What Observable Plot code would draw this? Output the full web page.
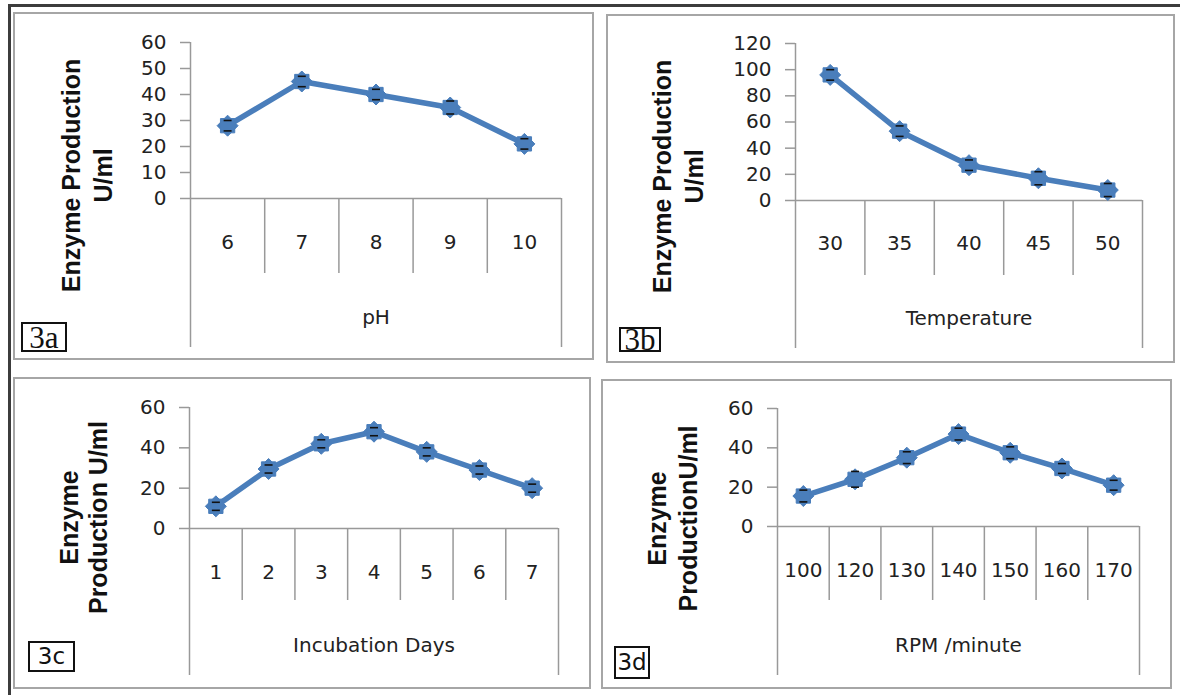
<!DOCTYPE html>
<html>
<head>
<meta charset="utf-8">
<script src="https://cdn.jsdelivr.net/npm/d3@7"></script>
<script src="https://cdn.jsdelivr.net/npm/@observablehq/plot@0.6"></script>
<style>
  html, body { margin: 0; padding: 0; background: #fff; }
  #root { position: relative; width: 1180px; height: 695px; overflow: hidden; background: #fff; }
  .frameTop { position: absolute; left: 8px; top: 4px; width: 1172px; height: 3px; background: #3c3c3c; }
  .frameLeft { position: absolute; left: 8px; top: 4px; width: 3px; height: 691px; background: #3c3c3c; }
  .panel { position: absolute; box-sizing: border-box; border: 2px solid #a6a6a6; }
  .chart { position: absolute; }
  .chart svg { overflow: visible; }
  .tag { position: absolute; box-sizing: border-box; border: 2px solid #111; color: #111;
         display: flex; align-items: center; justify-content: center; background: #fff; line-height: 1; }
</style>
</head>
<body>
<div id="root">
  <div class="frameTop"></div>
  <div class="frameLeft"></div>
</div>
<script>
// ---------------- data ----------------
const phCats = ["6", "7", "8", "9", "10"];
const phValues = [28, 45, 40, 35, 21];
const phErrors = [2, 2, 2, 2.5, 2];
const phTicks = [0, 10, 20, 30, 40, 50, 60];

const tempCats = ["30", "35", "40", "45", "50"];
const tempValues = [96, 53, 27, 17, 8];
const tempErrors = [4, 4, 4, 5, 5];
const tempTicks = [0, 20, 40, 60, 80, 100, 120];

const dayCats = ["1", "2", "3", "4", "5", "6", "7"];
const dayValues = [11, 29.5, 42, 48, 38, 29, 20];
const dayErrors = [2, 2, 2, 2, 2, 2, 2];
const dayTicks = [0, 20, 40, 60];

const rpmCats = ["100", "120", "130", "140", "150", "160", "170"];
const rpmValues = [15.5, 24, 35, 47, 37.5, 29.5, 21];
const rpmErrors = [3, 4, 3, 3, 3, 2.5, 2.5];
const rpmTicks = [0, 20, 40, 60];

// ---------------- layout ----------------
const LINE = "#4a7ebb";
const AXIS = "#999999";
const TEXT = "#222222";

const panels = [
  {tag: "3a", tagSerif: true, cats: phCats, values: phValues, errors: phErrors, ticks: phTicks,
   xTitle: "pH", yTitle: "Enzyme Production\nU/ml",
   box: [14, 13, 593, 359], axisX: 190, rightEnd: 561, yTop: 42, y0: 198,
   divEnd: 273, outerEnd: 347, labelY: 242, titleY: 317, yTitleX: 85, yTitleY: 175, yTitleLH: 32,
   tagBox: [21, 322, 67, 352]},
  {tag: "3b", tagSerif: true, cats: tempCats, values: tempValues, errors: tempErrors, ticks: tempTicks,
   xTitle: "Temperature", yTitle: "Enzyme Production\nU/ml",
   box: [607, 15, 1174, 362], axisX: 795, rightEnd: 1142, yTop: 43, y0: 200,
   divEnd: 275, outerEnd: 348, labelY: 243, titleY: 318, yTitleX: 676, yTitleY: 176, yTitleLH: 32,
   tagBox: [619, 327, 661, 352]},
  {tag: "3c", tagSerif: false, cats: dayCats, values: dayValues, errors: dayErrors, ticks: dayTicks,
   xTitle: "Incubation Days", yTitle: "Enzyme\nProduction U/ml",
   box: [14, 378, 590, 688], axisX: 189, rightEnd: 558, yTop: 407, y0: 528,
   divEnd: 600, outerEnd: 675, labelY: 572, titleY: 645, yTitleX: 82.5, yTitleY: 517, yTitleLH: 29,
   tagBox: [28, 641, 75, 672]},
  {tag: "3d", tagSerif: false, cats: rpmCats, values: rpmValues, errors: rpmErrors, ticks: rpmTicks,
   xTitle: "RPM /minute", yTitle: "Enzyme\nProductionU/ml",
   box: [602, 380, 1171, 688], axisX: 777, rightEnd: 1139, yTop: 408, y0: 526,
   divEnd: 600, outerEnd: 675, labelY: 570, titleY: 645, yTitleX: 671.5, yTitleY: 518, yTitleLH: 31,
   tagBox: [614, 646, 650, 679]}
];

// marker: union of a diamond and a square (Excel-like blurred diamond)
const starSymbol = {
  draw(ctx, size) {
    const r = Math.sqrt(size / Math.PI);
    ctx.moveTo(0, -r); ctx.lineTo(r, 0); ctx.lineTo(0, r); ctx.lineTo(-r, 0); ctx.closePath();
    const s = r * 0.68;
    ctx.moveTo(-s, -s); ctx.lineTo(s, -s); ctx.lineTo(s, s); ctx.lineTo(-s, s); ctx.closePath();
  }
};
// error-bar cap: short horizontal stroke
const capSymbol = {
  draw(ctx, size) {
    const r = Math.sqrt(size / Math.PI);
    ctx.moveTo(-r, 0); ctx.lineTo(r, 0);
  }
};

const root = document.getElementById("root");

for (const p of panels) {
  const [bx0, by0, bx1, by1] = p.box;
  const border = document.createElement("div");
  border.className = "panel";
  Object.assign(border.style, {left: (bx0 - 1) + "px", top: (by0 - 1) + "px",
    width: (bx1 - bx0 + 2) + "px", height: (by1 - by0 + 2) + "px"});
  root.appendChild(border);

  const n = p.cats.length;
  const data = p.cats.map((c, i) => ({i: i + 1, cat: c, v: p.values[i], e: p.errors[i]}));
  const bounds = d3.range(1, n).map(i => i + 0.5);
  const ends = [0.5, n + 0.5];
  const yMax = d3.max(p.ticks);
  const font = "DejaVu Sans, Verdana, sans-serif";

  const chart = Plot.plot({
    width: bx1 - bx0,
    height: by1 - by0,
    marginLeft: p.axisX - bx0,
    marginRight: bx1 - p.rightEnd,
    marginTop: p.yTop - by0,
    marginBottom: by1 - p.y0,
    style: {background: "transparent", fontFamily: font, color: TEXT, overflow: "visible"},
    x: {domain: [0.5, n + 0.5], axis: null},
    y: {domain: [0, yMax], axis: null},
    marks: [
      Plot.axisY(p.ticks, {tickSize: 10, tickPadding: 14, stroke: AXIS, strokeWidth: 1.5,
        fontSize: 20, fill: TEXT, label: null, tickFormat: d => String(d),
        style: {letterSpacing: "1px"}}),
      Plot.ruleX([0.5], {x: d => d, y1: 0, y2: yMax, stroke: AXIS, strokeWidth: 1.5}),
      Plot.ruleY([0], {stroke: AXIS, strokeWidth: 1.5}),
      Plot.axisX(bounds, {tickSize: p.divEnd - p.y0, tickFormat: () => "", label: null,
        stroke: AXIS, strokeWidth: 1.5}),
      Plot.axisX(ends, {tickSize: p.outerEnd - p.y0, tickFormat: () => "", label: null,
        stroke: AXIS, strokeWidth: 1.5}),
      Plot.text(data, {x: "i", text: "cat", frameAnchor: "bottom", dy: p.labelY - p.y0,
        fontSize: 20, fill: TEXT, lineAnchor: "middle", style: {letterSpacing: "1px"}}),
      Plot.text([p.xTitle], {frameAnchor: "bottom", dy: p.titleY - p.y0, fontSize: 20,
        fill: TEXT, lineAnchor: "middle", style: {letterSpacing: "1.3px"}}),
      Plot.text([p.yTitle], {frameAnchor: "top-left", dx: p.yTitleX - p.axisX, dy: p.yTitleY - p.yTop,
        rotate: -90, fontSize: 25, fontWeight: "bold", fontFamily: "Liberation Sans, Arial, sans-serif",
        lineHeight: p.yTitleLH / 25, lineAnchor: "middle", textAnchor: "middle", fill: "#111",
        style: {letterSpacing: "0.8px"}}),
      Plot.ruleX(data, {x: "i", y1: d => d.v - d.e, y2: d => d.v + d.e, stroke: "#111", strokeWidth: 1.2}),
      Plot.line(data, {x: "i", y: "v", stroke: LINE, strokeWidth: 5.5, strokeLinejoin: "round"}),
      Plot.dot(data, {x: "i", y: "v", symbol: starSymbol, r: 10.5, fill: LINE, stroke: LINE, strokeWidth: 1}),
      Plot.dot(data, {x: "i", y: d => d.v + d.e, symbol: capSymbol, r: 4, stroke: "#111", strokeWidth: 1.6}),
      Plot.dot(data, {x: "i", y: d => d.v - d.e, symbol: capSymbol, r: 4, stroke: "#111", strokeWidth: 1.6})
    ]
  });
  const wrap = document.createElement("div");
  wrap.className = "chart";
  Object.assign(wrap.style, {left: bx0 + "px", top: by0 + "px"});
  wrap.appendChild(chart);
  root.appendChild(wrap);

  const [tx0, ty0, tx1, ty1] = p.tagBox;
  const tag = document.createElement("div");
  tag.className = "tag";
  tag.textContent = p.tag;
  Object.assign(tag.style, {left: tx0 + "px", top: ty0 + "px", width: (tx1 - tx0) + "px", height: (ty1 - ty0) + "px",
    fontFamily: p.tagSerif ? "Liberation Serif, Times New Roman, serif" : "DejaVu Sans, Verdana, sans-serif",
    fontSize: p.tagSerif ? "31px" : "23px"});
  root.appendChild(tag);
}
</script>
</body>
</html>
